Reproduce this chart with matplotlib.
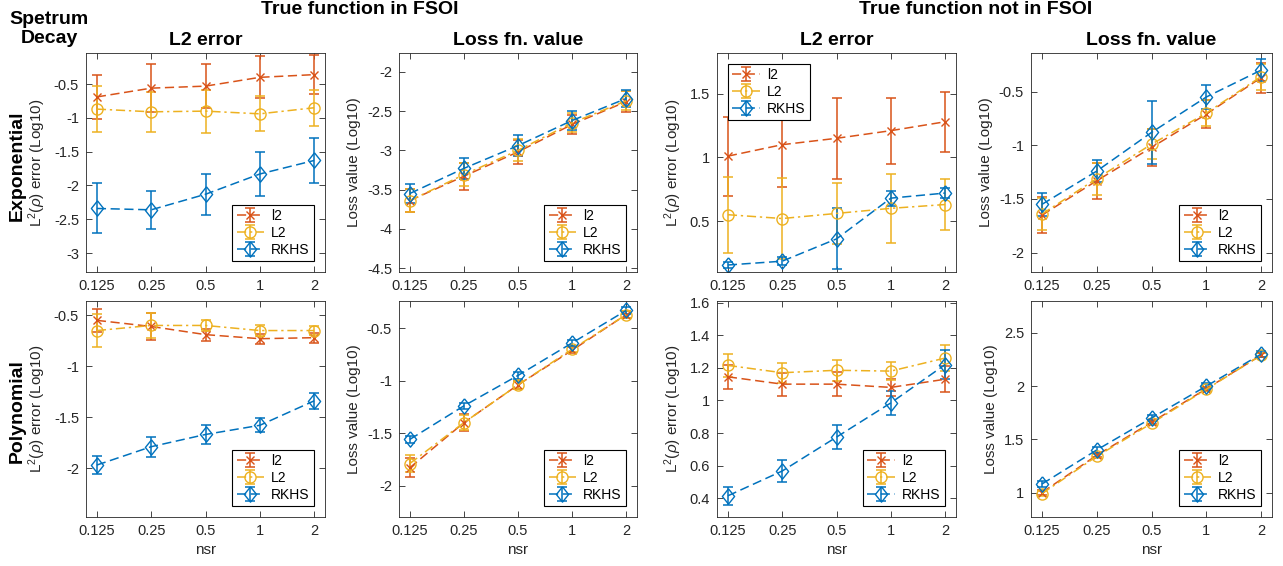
import matplotlib
matplotlib.use("Agg")
import matplotlib.pyplot as plt
from matplotlib.ticker import FixedLocator, FuncFormatter, NullLocator

plt.rcParams["font.family"] = ["Liberation Sans", "DejaVu Sans"]
plt.rcParams["axes.unicode_minus"] = False
plt.rcParams["mathtext.fontset"] = "custom"
plt.rcParams["mathtext.rm"] = "Liberation Sans"
plt.rcParams["mathtext.it"] = "Liberation Sans:italic"

# noise-to-signal ratios on the x axis
nsr = [0.125, 0.25, 0.5, 1, 2]
nsr_labels = ["0.125", "0.25", "0.5", "1", "2"]
methods = ["l2", "L2", "RKHS"]

# Exponential decay, true function in FSOI: L2 error
exp_in_err_l2 = [-0.69, -0.56, -0.53, -0.40, -0.36]
exp_in_err_l2_sd = [0.32, 0.36, 0.32, 0.31, 0.29]
exp_in_err_L2 = [-0.87, -0.91, -0.90, -0.94, -0.85]
exp_in_err_L2_sd = [0.34, 0.30, 0.32, 0.26, 0.27]
exp_in_err_rkhs = [-2.34, -2.36, -2.13, -1.83, -1.63]
exp_in_err_rkhs_sd = [0.37, 0.28, 0.30, 0.33, 0.33]

# Exponential decay, true function in FSOI: loss value
exp_in_loss_l2 = [-3.64, -3.33, -3.02, -2.67, -2.38]
exp_in_loss_l2_sd = [0.15, 0.17, 0.15, 0.12, 0.13]
exp_in_loss_L2 = [-3.64, -3.31, -3.00, -2.65, -2.37]
exp_in_loss_L2_sd = [0.15, 0.15, 0.14, 0.12, 0.12]
exp_in_loss_rkhs = [-3.55, -3.23, -2.94, -2.62, -2.34]
exp_in_loss_rkhs_sd = [0.12, 0.13, 0.13, 0.12, 0.11]

# Exponential decay, true function not in FSOI: L2 error
exp_out_err_l2 = [1.01, 1.10, 1.15, 1.21, 1.28]
exp_out_err_l2_sd = [0.31, 0.33, 0.32, 0.26, 0.235]
exp_out_err_L2 = [0.55, 0.52, 0.56, 0.60, 0.63]
exp_out_err_L2_sd = [0.30, 0.32, 0.24, 0.27, 0.20]
exp_out_err_rkhs = [0.155, 0.185, 0.36, 0.68, 0.72]
exp_out_err_rkhs_sd = [0.02, 0.03, 0.24, 0.06, 0.04]

# Exponential decay, true function not in FSOI: loss value
exp_out_loss_l2 = [-1.65, -1.33, -1.02, -0.71, -0.37]
exp_out_loss_l2_sd = [0.17, 0.17, 0.17, 0.13, 0.14]
exp_out_loss_L2 = [-1.64, -1.31, -0.99, -0.70, -0.36]
exp_out_loss_L2_sd = [0.15, 0.15, 0.14, 0.12, 0.12]
exp_out_loss_rkhs = [-1.55, -1.24, -0.88, -0.55, -0.30]
exp_out_loss_rkhs_sd = [0.11, 0.10, 0.29, 0.11, 0.10]

# Polynomial decay, true function in FSOI: L2 error
poly_in_err_l2 = [-0.55, -0.61, -0.69, -0.73, -0.72]
poly_in_err_l2_sd = [0.11, 0.13, 0.06, 0.05, 0.05]
poly_in_err_L2 = [-0.65, -0.60, -0.60, -0.65, -0.65]
poly_in_err_L2_sd = [0.16, 0.12, 0.05, 0.05, 0.04]
poly_in_err_rkhs = [-1.97, -1.79, -1.67, -1.58, -1.34]
poly_in_err_rkhs_sd = [0.09, 0.10, 0.09, 0.07, 0.08]

# Polynomial decay, true function in FSOI: loss value
poly_in_loss_l2 = [-1.83, -1.40, -1.04, -0.71, -0.37]
poly_in_loss_l2_sd = [0.09, 0.08, 0.04, 0.03, 0.03]
poly_in_loss_L2 = [-1.79, -1.40, -1.04, -0.70, -0.37]
poly_in_loss_L2_sd = [0.08, 0.07, 0.04, 0.03, 0.03]
poly_in_loss_rkhs = [-1.56, -1.24, -0.95, -0.64, -0.33]
poly_in_loss_rkhs_sd = [0.03, 0.03, 0.03, 0.03, 0.03]

# Polynomial decay, true function not in FSOI: L2 error
poly_out_err_l2 = [1.145, 1.10, 1.10, 1.08, 1.13]
poly_out_err_l2_sd = [0.075, 0.07, 0.075, 0.05, 0.08]
poly_out_err_L2 = [1.215, 1.17, 1.185, 1.18, 1.26]
poly_out_err_L2_sd = [0.07, 0.06, 0.065, 0.055, 0.08]
poly_out_err_rkhs = [0.415, 0.567, 0.775, 0.985, 1.22]
poly_out_err_rkhs_sd = [0.055, 0.065, 0.075, 0.075, 0.09]

# Polynomial decay, true function not in FSOI: loss value
poly_out_loss_l2 = [1.00, 1.35, 1.66, 1.975, 2.29]
poly_out_loss_l2_sd = [0.02, 0.02, 0.02, 0.02, 0.02]
poly_out_loss_L2 = [0.99, 1.34, 1.65, 1.97, 2.29]
poly_out_loss_L2_sd = [0.02, 0.02, 0.02, 0.02, 0.02]
poly_out_loss_rkhs = [1.08, 1.40, 1.70, 2.00, 2.30]
poly_out_loss_rkhs_sd = [0.03, 0.03, 0.03, 0.03, 0.03]

W, H = 1283, 566
fig = plt.figure(figsize=(W / 100, H / 100), dpi=100)

# MATLAB default colours
colors = {"l2": "#D95319", "L2": "#EDB120", "RKHS": "#0072BD"}
diamond = [(0, 1), (0.8, 0), (0, -1), (-0.8, 0), (0, 1)]
styles = {
    "l2": dict(marker="x", ls=(0, (6, 3)), ms=6),
    "L2": dict(marker="o", ls=(0, (6, 2.5, 1.5, 2.5)), ms=8, mfc="none"),
    "RKHS": dict(marker=diamond, ls=(0, (6, 3)), ms=11, mfc="none"),
}

err_label = r"L$^2(\rho)$ error (Log10)"
loss_label = "Loss value (Log10)"


def px_axes(left, right, top, bottom):
    return fig.add_axes([left / W, 1 - bottom / H, (right - left) / W, (bottom - top) / H])


def draw_panel(ax, series, ylim, yticks, ylabel, legend_loc, xlabel=False, title=None):
    for name, (vals, sd) in zip(methods, series):
        st = styles[name]
        ax.errorbar(nsr, vals, yerr=sd, color=colors[name], lw=1.1, elinewidth=1.1,
                    capsize=3.5, capthick=1.1, label=name, **st)
    ax.set_xscale("log", base=2)
    ax.set_xlim(2 ** -3.2, 2 ** 1.2)
    ax.xaxis.set_major_locator(FixedLocator(nsr))
    ax.xaxis.set_minor_locator(NullLocator())
    ax.set_xticklabels(nsr_labels)
    ax.set_ylim(*ylim)
    ax.set_yticks(yticks)
    ax.yaxis.set_major_formatter(FuncFormatter(lambda v, p: f"{v:g}"))
    ax.tick_params(direction="in", top=True, right=True, labelsize=10.5,
                   length=4, width=0.6, colors="#262626", pad=5)
    for sp in ax.spines.values():
        sp.set_linewidth(0.6)
        sp.set_color("#262626")
    ax.set_ylabel(ylabel, fontsize=11, color="#262626")
    if xlabel:
        ax.set_xlabel("nsr", fontsize=11, color="#262626")
    if title:
        ax.set_title(title, fontsize=14, fontweight="bold", pad=6)
    leg = ax.legend(loc=legend_loc, fontsize=10, frameon=True, fancybox=False,
                    edgecolor="black", framealpha=1, borderaxespad=0.8,
                    handlelength=2.0, handletextpad=0.5, borderpad=0.3,
                    labelspacing=0.2)
    leg.get_frame().set_linewidth(0.8)


cols = [(86, 325), (399, 637), (717, 956), (1031, 1272)]
top_row = (53, 272)
bot_row = (301, 517)

ax1 = px_axes(*cols[0], *top_row)
draw_panel(ax1, [(exp_in_err_l2, exp_in_err_l2_sd), (exp_in_err_L2, exp_in_err_L2_sd),
                 (exp_in_err_rkhs, exp_in_err_rkhs_sd)],
           (-3.28, -0.04), [-3, -2.5, -2, -1.5, -1, -0.5], err_label, "lower right",
           title="L2 error")
ax2 = px_axes(*cols[1], *top_row)
draw_panel(ax2, [(exp_in_loss_l2, exp_in_loss_l2_sd), (exp_in_loss_L2, exp_in_loss_L2_sd),
                 (exp_in_loss_rkhs, exp_in_loss_rkhs_sd)],
           (-4.55, -1.76), [-4.5, -4, -3.5, -3, -2.5, -2], loss_label, "lower right",
           title="Loss fn. value")
ax3 = px_axes(*cols[2], *top_row)
draw_panel(ax3, [(exp_out_err_l2, exp_out_err_l2_sd), (exp_out_err_L2, exp_out_err_L2_sd),
                 (exp_out_err_rkhs, exp_out_err_rkhs_sd)],
           (0.1, 1.82), [0.5, 1, 1.5], err_label, "upper left",
           title="L2 error")
ax4 = px_axes(*cols[3], *top_row)
draw_panel(ax4, [(exp_out_loss_l2, exp_out_loss_l2_sd), (exp_out_loss_L2, exp_out_loss_L2_sd),
                 (exp_out_loss_rkhs, exp_out_loss_rkhs_sd)],
           (-2.18, -0.14), [-2, -1.5, -1, -0.5], loss_label, "lower right",
           title="Loss fn. value")

ax5 = px_axes(*cols[0], *bot_row)
draw_panel(ax5, [(poly_in_err_l2, poly_in_err_l2_sd), (poly_in_err_L2, poly_in_err_L2_sd),
                 (poly_in_err_rkhs, poly_in_err_rkhs_sd)],
           (-2.48, -0.36), [-2, -1.5, -1, -0.5], err_label, "lower right", xlabel=True)
ax6 = px_axes(*cols[1], *bot_row)
draw_panel(ax6, [(poly_in_loss_l2, poly_in_loss_l2_sd), (poly_in_loss_L2, poly_in_loss_L2_sd),
                 (poly_in_loss_rkhs, poly_in_loss_rkhs_sd)],
           (-2.3, -0.24), [-2, -1.5, -1, -0.5], loss_label, "lower right", xlabel=True)
ax7 = px_axes(*cols[2], *bot_row)
draw_panel(ax7, [(poly_out_err_l2, poly_out_err_l2_sd), (poly_out_err_L2, poly_out_err_L2_sd),
                 (poly_out_err_rkhs, poly_out_err_rkhs_sd)],
           (0.285, 1.61), [0.4, 0.6, 0.8, 1, 1.2, 1.4, 1.6], err_label, "lower right",
           xlabel=True)
ax8 = px_axes(*cols[3], *bot_row)
draw_panel(ax8, [(poly_out_loss_l2, poly_out_loss_l2_sd), (poly_out_loss_L2, poly_out_loss_L2_sd),
                 (poly_out_loss_rkhs, poly_out_loss_rkhs_sd)],
           (0.77, 2.8), [1, 1.5, 2, 2.5], loss_label, "lower right", xlabel=True)

# figure-level headings
fig.text(360 / W, 1 - 9 / H, "True function in FSOI", ha="center", va="center",
         fontsize=14, fontweight="bold")
fig.text(976 / W, 1 - 9 / H, "True function not in FSOI", ha="center", va="center",
         fontsize=14, fontweight="bold")
fig.text(49 / W, 1 - 29 / H, "Spetrum\nDecay", ha="center", va="center",
         fontsize=14, fontweight="bold", linespacing=1.15)
fig.text(17 / W, 1 - 166 / H, "Exponential", ha="center", va="center", rotation=90,
         fontsize=14, fontweight="bold")
fig.text(17 / W, 1 - 411 / H, "Polynomial", ha="center", va="center", rotation=90,
         fontsize=14, fontweight="bold")

fig.savefig("out.png", dpi=100)
